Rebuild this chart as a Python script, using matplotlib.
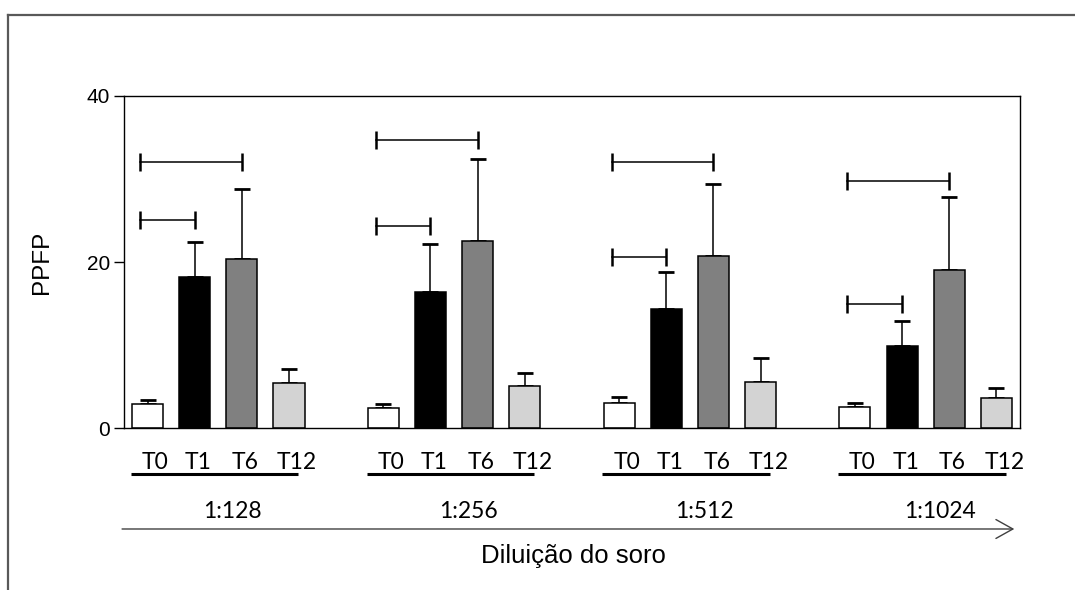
import numpy as np
import matplotlib
matplotlib.use("Agg")
import matplotlib.pyplot as plt
from matplotlib.lines import Line2D
from matplotlib.transforms import blended_transform_factory

# Diluições do soro e tempos de coleta
diluicoes = ["1:128", "1:256", "1:512", "1:1024"]
tempos = ["T0", "T1", "T6", "T12"]

# PPFP médio por diluição (um array por tempo)
media_T0 = [2.9, 2.5, 3.0, 2.6]
media_T1 = [18.2, 16.4, 14.4, 9.9]
media_T6 = [20.4, 22.6, 20.8, 19.0]
media_T12 = [5.5, 5.1, 5.6, 3.7]

# barra de erro superior
erro_T0 = [0.5, 0.4, 0.8, 0.4]
erro_T1 = [4.2, 5.8, 4.4, 3.0]
erro_T6 = [8.4, 9.8, 8.6, 8.8]
erro_T12 = [1.6, 1.6, 2.9, 1.2]

# altura das chaves de significância (T0 x T1 e T0 x T6)
sig_T0_T1 = [25.1, 24.4, 20.6, 15.0]
sig_T0_T6 = [32.0, 34.7, 32.0, 29.8]

medias = [media_T0, media_T1, media_T6, media_T12]
erros = [erro_T0, erro_T1, erro_T6, erro_T12]
cores = ["white", "black", "#808080", "#d3d3d3"]

fig = plt.figure(figsize=(10.75, 5.9), dpi=100)
ax = fig.add_axes([0.1153, 0.274, 0.8335, 0.5633])

n_grupos = len(diluicoes)
passo = len(tempos) + 1
largura = 0.66

for i, t in enumerate(tempos):
    x = np.arange(n_grupos) * passo + i
    ax.bar(x, medias[i], width=largura, color=cores[i], edgecolor="black",
           linewidth=1.1, zorder=2)
    ax.errorbar(x, medias[i], yerr=[np.zeros(n_grupos), erros[i]], fmt="none",
                ecolor="black", elinewidth=1.1, capsize=6, capthick=2.0, zorder=1)

# chaves de significância
for g in range(n_grupos):
    x0 = g * passo - 0.16
    for alvo, h in ((1, sig_T0_T1[g]), (2, sig_T0_T6[g])):
        x1 = g * passo + alvo
        ax.plot([x0, x1], [h, h], color="black", lw=1.1)
        ax.plot([x0, x1], [h, h], ls="none", marker="|", markersize=13.5,
                mew=1.8, color="black")

ax.set_xlim(-0.5, n_grupos * passo - 1.5)
ax.set_ylim(0, 40)
ax.set_yticks([0, 20, 40])
ax.set_xticks([])
for s in ax.spines.values():
    s.set_linewidth(1.0)
ax.tick_params(axis="y", direction="out", length=7, width=1.0, pad=3,
               labelsize=15)
for lb in ax.get_yticklabels():
    lb.set_fontfamily("Liberation Sans")

# rótulos abaixo do eixo
tr = blended_transform_factory(ax.transData, fig.transFigure)
desloc = [0.16, 0.08, 0.07, 0.17]
for g, d in enumerate(diluicoes):
    base = g * passo
    for i, t in enumerate(tempos):
        fig.text(base + i + desloc[i], 0.2046, t, transform=tr, ha="center",
                 va="baseline", fontsize=16.5, family="Lato")
    ax.plot([base - 0.356, base + 3.2], [0.1961, 0.1961], transform=tr,
            color="black", lw=2.2, clip_on=False, solid_capstyle="butt")
    fig.text(base + 1.5 + 0.3, 0.1215, d, transform=tr, ha="center",
             va="baseline", fontsize=16.5, family="Lato")

# seta da diluição
ax.annotate("", xy=(n_grupos * passo - 1.62, 0.1034), xycoords=tr,
            xytext=(-0.54, 0.1034), textcoords=tr,
            arrowprops=dict(arrowstyle="->,head_length=1.22,head_width=0.68",
                            color="#404040", lw=1.0, mutation_scale=10,
                            shrinkA=0, shrinkB=0))

fig.text(573 / 1075, 0.0458, "Diluição do soro", ha="center", va="baseline",
         fontsize=18.5, family="Liberation Sans")
fig.text(0.039, 0.556, "PPFP", ha="center", va="center", rotation=90,
         fontsize=17.5, family="Liberation Sans")

# moldura externa
x_m = 8 / 1075
y_m = 1 - 15 / 590
fig.add_artist(Line2D([x_m, 1], [y_m, y_m], transform=fig.transFigure,
                      color="#595959", lw=1.6))
fig.add_artist(Line2D([x_m, x_m], [0, y_m], transform=fig.transFigure,
                      color="#595959", lw=1.6))

fig.savefig("out.png", dpi=100)
